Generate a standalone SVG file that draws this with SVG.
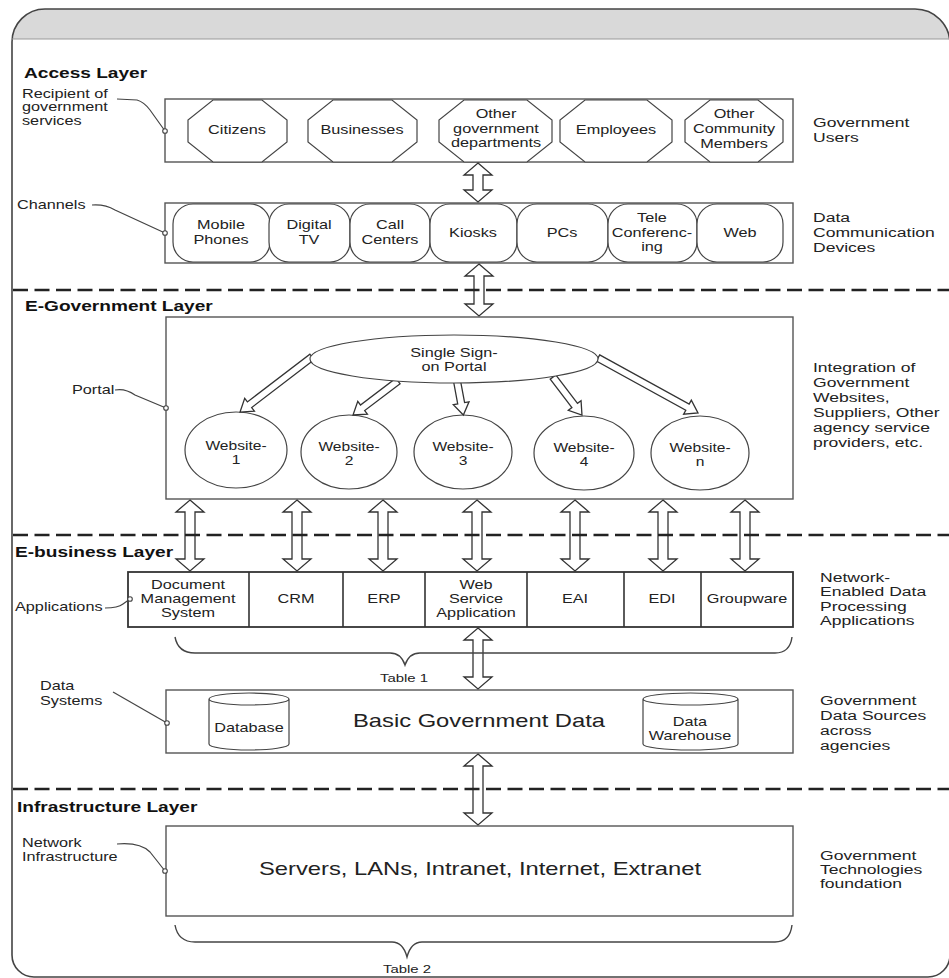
<svg xmlns="http://www.w3.org/2000/svg" width="949" height="978" viewBox="0 0 949 978">
<style>
text{font-family:"Liberation Sans",Arial,sans-serif;fill:#222}
.s{font-size:12.5px}
.r{font-size:13.5px}
.w{font-size:12px}
.t{font-size:11.5px}
.b{font-size:14.7px;font-weight:bold;fill:#111}
.L{font-size:19px}
.box{fill:#fff;stroke:#555;stroke-width:1.4}
.app{fill:#fff;stroke:#333;stroke-width:1.8}
.shp{fill:#fff;stroke:#444;stroke-width:1.2}
.ar{fill:#fff;stroke:#333;stroke-width:1.3;stroke-linejoin:miter}
.ld{fill:none;stroke:#444;stroke-width:1.2}
.dot{fill:#fff;stroke:#444;stroke-width:1.1}
.dash{stroke:#222;stroke-width:2.6;stroke-dasharray:15 6.5;fill:none}
.br{fill:none;stroke:#444;stroke-width:1.4}
</style>
<rect width="949" height="978" fill="#fff"/>
<g id="frame">
<path d="M12,39 L12,42 A33,33 0 0 1 45,9 L915,9 A35,35 0 0 1 949,33 L949,39 Z" fill="#d9d9d9"/>
<path d="M12,42 A33,33 0 0 1 45,9 L915,9 A35,35 0 0 1 950,44 L950,955 A22,22 0 0 1 928,977 L34,977 A22,22 0 0 1 12,955 Z" fill="none" stroke="#444" stroke-width="1.6"/>
<line x1="12" y1="39" x2="949" y2="39" stroke="#999" stroke-width="1.2"/>
</g>
<g id="layer-titles">
<text class="b" transform="matrix(1.3 0 0 1 24 78)">Access Layer</text>
<text class="b" transform="matrix(1.3 0 0 1 25 311)">E-Government Layer</text>
<text class="b" transform="matrix(1.3 0 0 1 15 557)">E-business Layer</text>
<text class="b" transform="matrix(1.3 0 0 1 17 812)">Infrastructure Layer</text>
</g>
<g id="access-box">
<rect class="box" x="165" y="99" width="628" height="63"/>
<g id="citizens"><path class="shp" d="M213,100 L262,100 L287,120 L287,142 L262,162 L213,162 L188,142 L188,120 Z"/><text class="s" text-anchor="middle" transform="matrix(1.3 0 0 1 237 134)">Citizens</text></g>
<g id="businesses"><path class="shp" d="M333,100 L392,100 L417,120 L417,142 L392,162 L333,162 L308,142 L308,120 Z"/><text class="s" text-anchor="middle" transform="matrix(1.3 0 0 1 362 134)">Businesses</text></g>
<g id="other-gov"><path class="shp" d="M464,100 L527,100 L552,120 L552,142 L527,162 L464,162 L439,142 L439,120 Z"/><text class="s" text-anchor="middle" transform="matrix(1.3 0 0 1 496 118)"><tspan x="0">Other</tspan><tspan x="0" dy="15">government</tspan><tspan x="0" dy="14">departments</tspan></text></g>
<g id="employees"><path class="shp" d="M585,100 L647,100 L672,120 L672,142 L647,162 L585,162 L560,142 L560,120 Z"/><text class="s" text-anchor="middle" transform="matrix(1.3 0 0 1 616 134)">Employees</text></g>
<g id="other-community"><path class="shp" d="M710,100 L758,100 L783,120 L783,142 L758,162 L710,162 L685,142 L685,120 Z"/><text class="s" text-anchor="middle" transform="matrix(1.3 0 0 1 734 118)"><tspan x="0">Other</tspan><tspan x="0" dy="15.5">Community</tspan><tspan x="0" dy="14.5">Members</tspan></text></g>
</g>
<g id="channels-box">
<rect class="box" x="165" y="203" width="628" height="60"/>
<g id="mobile"><rect class="shp" x="173" y="204" width="97" height="58" rx="20"/><text class="s" text-anchor="middle" transform="matrix(1.3 0 0 1 221 229)"><tspan x="0">Mobile</tspan><tspan x="0" dy="15">Phones</tspan></text></g>
<g id="digitaltv"><rect class="shp" x="269" y="204" width="81" height="58" rx="20"/><text class="s" text-anchor="middle" transform="matrix(1.3 0 0 1 309 229)"><tspan x="0">Digital</tspan><tspan x="0" dy="15">TV</tspan></text></g>
<g id="callcenters"><rect class="shp" x="350" y="204" width="80" height="58" rx="20"/><text class="s" text-anchor="middle" transform="matrix(1.3 0 0 1 390 229)"><tspan x="0">Call</tspan><tspan x="0" dy="15">Centers</tspan></text></g>
<g id="kiosks"><rect class="shp" x="430" y="204" width="87" height="58" rx="20"/><text class="s" text-anchor="middle" transform="matrix(1.3 0 0 1 473 237)">Kiosks</text></g>
<g id="pcs"><rect class="shp" x="517" y="204" width="91" height="58" rx="20"/><text class="s" text-anchor="middle" transform="matrix(1.3 0 0 1 562 237)">PCs</text></g>
<g id="tele"><rect class="shp" x="608" y="204" width="89" height="58" rx="20"/><text class="s" text-anchor="middle" transform="matrix(1.3 0 0 1 652 222)"><tspan x="0">Tele</tspan><tspan x="0" dy="15">Conferenc-</tspan><tspan x="0" dy="14">ing</tspan></text></g>
<g id="web"><rect class="shp" x="697" y="204" width="86" height="58" rx="20"/><text class="s" text-anchor="middle" transform="matrix(1.3 0 0 1 740 237)">Web</text></g>
</g>
<g id="portal-box">
<rect class="box" x="166" y="317" width="627" height="182"/>
</g>
<g id="websites">
<g id="website-1"><ellipse class="shp" cx="236" cy="450" rx="51" ry="38"/><text class="w" text-anchor="middle" transform="matrix(1.3 0 0 1 236 450)"><tspan x="0">Website-</tspan><tspan x="0" dy="14">1</tspan></text></g>
<g id="website-2"><ellipse class="shp" cx="349" cy="452" rx="48" ry="37"/><text class="w" text-anchor="middle" transform="matrix(1.3 0 0 1 349 451)"><tspan x="0">Website-</tspan><tspan x="0" dy="14">2</tspan></text></g>
<g id="website-3"><ellipse class="shp" cx="463" cy="452" rx="49" ry="37"/><text class="w" text-anchor="middle" transform="matrix(1.3 0 0 1 463 451)"><tspan x="0">Website-</tspan><tspan x="0" dy="14">3</tspan></text></g>
<g id="website-4"><ellipse class="shp" cx="584" cy="453" rx="50" ry="37"/><text class="w" text-anchor="middle" transform="matrix(1.3 0 0 1 584 452)"><tspan x="0">Website-</tspan><tspan x="0" dy="14">4</tspan></text></g>
<g id="website-n"><ellipse class="shp" cx="700" cy="453" rx="49" ry="37"/><text class="w" text-anchor="middle" transform="matrix(1.3 0 0 1 700 452)"><tspan x="0">Website-</tspan><tspan x="0" dy="14">n</tspan></text></g>
</g>
<g id="sso-arrows">
<polygon class="ar" transform="translate(312,357) rotate(142.6)" points="0,-3.5 78.6,-3.5 78.6,-8 90.6,0 78.6,8 78.6,3.5 0,3.5"/>
<polygon class="ar" transform="translate(398,381) rotate(142.9)" points="0,-3.5 44.4,-3.5 44.4,-8 56.4,0 44.4,8 44.4,3.5 0,3.5"/>
<polygon class="ar" transform="translate(457,381) rotate(79.4)" points="0,-3.5 22.6,-3.5 22.6,-8 34.6,0 22.6,8 22.6,3.5 0,3.5"/>
<polygon class="ar" transform="translate(553,377) rotate(52.7)" points="0,-3.5 35.8,-3.5 35.8,-8 47.8,0 35.8,8 35.8,3.5 0,3.5"/>
<polygon class="ar" transform="translate(598,358) rotate(28.8)" points="0,-3.5 102.1,-3.5 102.1,-8 114.1,0 102.1,8 102.1,3.5 0,3.5"/>
</g>
<g id="sso">
<ellipse class="shp" cx="454" cy="359" rx="144" ry="24"/>
<text class="s" text-anchor="middle" transform="matrix(1.3 0 0 1 454 357)"><tspan x="0">Single Sign-</tspan><tspan x="0" dy="14">on Portal</tspan></text>
</g>
<g id="apps-box">
<rect class="app" x="128" y="572" width="665" height="55"/>
<g stroke="#333" stroke-width="1.6"><line x1="249" y1="572" x2="249" y2="627"/><line x1="343" y1="572" x2="343" y2="627"/><line x1="425" y1="572" x2="425" y2="627"/><line x1="527" y1="572" x2="527" y2="627"/><line x1="624" y1="572" x2="624" y2="627"/><line x1="701" y1="572" x2="701" y2="627"/></g>
<g id="dms"><text class="s" text-anchor="middle" transform="matrix(1.3 0 0 1 188 589)"><tspan x="0">Document</tspan><tspan x="0" dy="14">Management</tspan><tspan x="0" dy="14">System</tspan></text></g>
<g id="crm"><text class="s" text-anchor="middle" transform="matrix(1.3 0 0 1 296 603)">CRM</text></g>
<g id="erp"><text class="s" text-anchor="middle" transform="matrix(1.3 0 0 1 384 603)">ERP</text></g>
<g id="wsa"><text class="s" text-anchor="middle" transform="matrix(1.3 0 0 1 476 589)"><tspan x="0">Web</tspan><tspan x="0" dy="14">Service</tspan><tspan x="0" dy="14">Application</tspan></text></g>
<g id="eai"><text class="s" text-anchor="middle" transform="matrix(1.3 0 0 1 575 603)">EAI</text></g>
<g id="edi"><text class="s" text-anchor="middle" transform="matrix(1.3 0 0 1 662 603)">EDI</text></g>
<g id="groupware"><text class="s" text-anchor="middle" transform="matrix(1.3 0 0 1 747 603)">Groupware</text></g>
</g>
<g id="data-box">
<rect class="box" x="166" y="690" width="627" height="63"/>
<g id="database"><path class="shp" d="M209,699 A40,6 0 0 1 289,699 L289,744 A40,6 0 0 1 209,744 Z M209,699 A40,6 0 0 0 289,699"/><text class="s" text-anchor="middle" transform="matrix(1.3 0 0 1 249 732)">Database</text></g>
<g id="warehouse"><path class="shp" d="M643,699 A47.5,6 0 0 1 738,699 L738,744 A47.5,6 0 0 1 643,744 Z M643,699 A47.5,6 0 0 0 738,699"/><text class="s" text-anchor="middle" transform="matrix(1.3 0 0 1 690 726)"><tspan x="0">Data</tspan><tspan x="0" dy="14">Warehouse</tspan></text></g>
<text class="L" text-anchor="middle" transform="matrix(1.25 0 0 1 479 727)">Basic Government Data</text>
</g>
<g id="infra-box">
<rect class="box" x="166" y="826" width="627" height="90"/>
<text class="L" text-anchor="middle" transform="matrix(1.25 0 0 1 480 875)">Servers, LANs, Intranet, Internet, Extranet</text>
</g>
<g id="connectors">
<polygon class="ar" points="478,163 492,175 483,175 483,190 492,190 478,202 464,190 473,190 473,175 464,175"/>
<polygon class="ar" points="479,264 493,276 484,276 484,304 493,304 479,316 465,304 474,304 474,276 465,276"/>
<polygon class="ar" points="190,500 204,512 195,512 195,559 204,559 190,571 176,559 185,559 185,512 176,512"/>
<polygon class="ar" points="297,500 311,512 302,512 302,559 311,559 297,571 283,559 292,559 292,512 283,512"/>
<polygon class="ar" points="383,500 397,512 388,512 388,559 397,559 383,571 369,559 378,559 378,512 369,512"/>
<polygon class="ar" points="477,500 491,512 482,512 482,559 491,559 477,571 463,559 472,559 472,512 463,512"/>
<polygon class="ar" points="575,500 589,512 580,512 580,559 589,559 575,571 561,559 570,559 570,512 561,512"/>
<polygon class="ar" points="663,500 677,512 668,512 668,559 677,559 663,571 649,559 658,559 658,512 649,512"/>
<polygon class="ar" points="745,500 759,512 750,512 750,559 759,559 745,571 731,559 740,559 740,512 731,512"/>
<polygon class="ar" points="478,628 492,640 483,640 483,677 492,677 478,689 464,677 473,677 473,640 464,640"/>
<polygon class="ar" points="478,754 492,766 483,766 483,813 492,813 478,825 464,813 473,813 473,766 464,766"/>
<path class="ld" d="M117,99 L137,100 Q144,102 150,110 L165,131"/>
<path class="ld" d="M92,205 Q105,204 115,210 L165,233"/>
<path class="ld" d="M115,390 Q125,388 135,395 L166,408"/>
<path class="ld" d="M105,608 Q118,608 123,604 L130,599"/>
<path class="ld" d="M113,692 L167,723"/>
<path class="ld" d="M117,844 Q140,842 150,852 Q158,862 165,871"/>
<circle class="dot" cx="165" cy="131" r="2.3"/>
<circle class="dot" cx="165" cy="233" r="2.3"/>
<circle class="dot" cx="166" cy="408" r="2.3"/>
<circle class="dot" cx="130" cy="599" r="2.3"/>
<circle class="dot" cx="167" cy="723" r="2.3"/>
<circle class="dot" cx="165" cy="871" r="2.3"/>
</g>
<g id="dividers">
<line class="dash" x1="13" y1="290" x2="949" y2="290"/>
<line class="dash" x1="13" y1="535" x2="949" y2="535"/>
<line class="dash" x1="13" y1="789" x2="949" y2="789"/>
</g>
<g id="braces">
<path class="br" d="M175,637 Q178,653 195,653 L390,653 Q401,653 405,665 Q409,653 420,653 L775,653 Q790,653 792,637"/>
<text class="t" text-anchor="middle" transform="matrix(1.3 0 0 1 404 682)">Table 1</text>
<path class="br" d="M175,925 Q178,942 195,942 L392,942 Q403,942 407,957 Q411,942 422,942 L775,942 Q790,942 792,925"/>
<text class="t" text-anchor="middle" transform="matrix(1.3 0 0 1 407 973)">Table 2</text>
</g>
<g id="left-labels">
<text class="s" transform="matrix(1.3 0 0 1 22 98)"><tspan x="0">Recipient of</tspan><tspan x="0" dy="13.5">government</tspan><tspan x="0" dy="13.5">services</tspan></text>
<text class="s" transform="matrix(1.3 0 0 1 17 209)">Channels</text>
<text class="s" transform="matrix(1.3 0 0 1 72 394)">Portal</text>
<text class="s" transform="matrix(1.3 0 0 1 15 611)">Applications</text>
<text class="s" transform="matrix(1.3 0 0 1 40 690)"><tspan x="0">Data</tspan><tspan x="0" dy="15">Systems</tspan></text>
<text class="s" transform="matrix(1.3 0 0 1 22 847)"><tspan x="0">Network</tspan><tspan x="0" dy="14">Infrastructure</tspan></text>
</g>
<g id="right-labels">
<text class="r" transform="matrix(1.3 0 0 1 813 127)"><tspan x="0">Government</tspan><tspan x="0" dy="15.5">Users</tspan></text>
<text class="r" transform="matrix(1.3 0 0 1 813 222)"><tspan x="0">Data</tspan><tspan x="0" dy="15">Communication</tspan><tspan x="0" dy="15">Devices</tspan></text>
<text class="r" transform="matrix(1.3 0 0 1 813 372)"><tspan x="0">Integration of</tspan><tspan x="0" dy="15">Government</tspan><tspan x="0" dy="15">Websites,</tspan><tspan x="0" dy="15">Suppliers, Other</tspan><tspan x="0" dy="15">agency service</tspan><tspan x="0" dy="15">providers, etc.</tspan></text>
<text class="r" transform="matrix(1.3 0 0 1 820 582)"><tspan x="0">Network-</tspan><tspan x="0" dy="14.5">Enabled Data</tspan><tspan x="0" dy="14.5">Processing</tspan><tspan x="0" dy="14.5">Applications</tspan></text>
<text class="r" transform="matrix(1.3 0 0 1 820 705)"><tspan x="0">Government</tspan><tspan x="0" dy="15">Data Sources</tspan><tspan x="0" dy="15">across</tspan><tspan x="0" dy="15">agencies</tspan></text>
<text class="r" transform="matrix(1.3 0 0 1 820 860)"><tspan x="0">Government</tspan><tspan x="0" dy="14">Technologies</tspan><tspan x="0" dy="14">foundation</tspan></text>
</g>
</svg>
